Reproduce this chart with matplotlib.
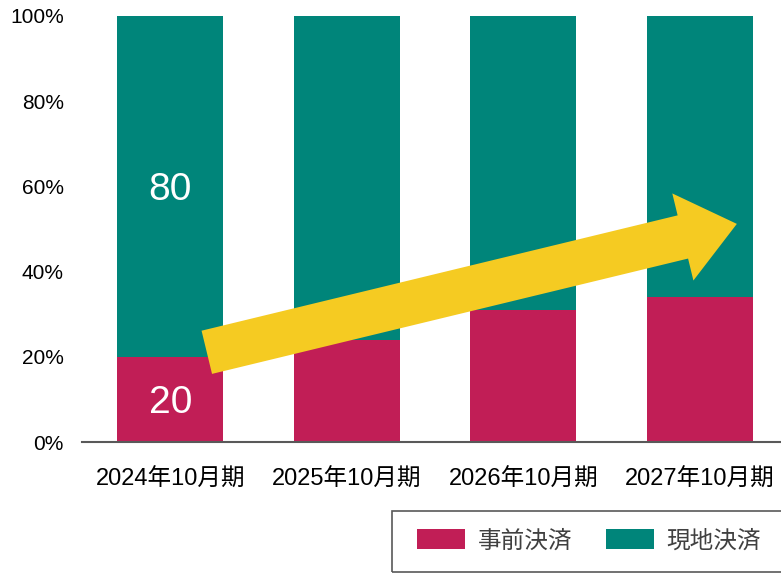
import matplotlib.pyplot as plt
from matplotlib.patches import Rectangle

plt.rcParams['font.family'] = ['Liberation Sans', 'Noto Sans CJK JP']

# Share of payment type per fiscal period (%)
periods = ['2024年10月期', '2025年10月期', '2026年10月期', '2027年10月期']
prepaid = [20, 24, 31, 34]          # 事前決済
onsite = [100 - v for v in prepaid]  # 現地決済
series_names = ['事前決済', '現地決済']

red = '#C11E56'
teal = '#00857A'
yellow = '#F5CB22'

fig = plt.figure(figsize=(7.81, 5.73), dpi=100)
ax = fig.add_axes([0.105, 0.2286, 0.904, 0.7435])

x = range(len(periods))
b1 = ax.bar(x, prepaid, width=0.6, color=red, label=series_names[0])
b2 = ax.bar(x, onsite, width=0.6, bottom=prepaid, color=teal, label=series_names[1])

# value labels on the first period only (digits centred in each segment)
for val, mid in [(prepaid[0], prepaid[0] / 2), (onsite[0], prepaid[0] + onsite[0] / 2)]:
    ax.annotate(str(val), (0, mid), xytext=(0, -10), textcoords='offset points',
                color='white', fontsize=28, ha='center', va='baseline')

# trend arrow
ax.annotate('', xy=(3.21, 51.2), xytext=(0.207, 21.06),
            arrowprops=dict(arrowstyle='simple,head_length=4.0,head_width=6.45,tail_width=3.2',
                            fc=yellow, ec='none', shrinkA=0, shrinkB=0,
                            mutation_scale=10))

ax.set_xlim(-0.5, 3.5)
ax.set_ylim(0, 100)
ax.set_yticks([0, 20, 40, 60, 80, 100])
ax.set_yticklabels([f'{v}%' for v in [0, 20, 40, 60, 80, 100]])
ax.set_xticks(list(x))
ax.set_xticklabels(periods)
ax.tick_params(axis='y', length=0, pad=13, labelsize=15, labelcolor='#000000')
ax.tick_params(axis='x', length=0, pad=19, labelsize=17, labelcolor='#000000')

for side in ['top', 'right', 'left']:
    ax.spines[side].set_visible(False)
ax.spines['bottom'].set_color('#595959')
ax.spines['bottom'].set_linewidth(1.5)

# legend with its own frame
leg = fig.legend(handles=[b1, b2], labels=series_names, loc='center left',
                 bbox_to_anchor=(416.7 / 781, 32.15 / 573), bbox_transform=fig.transFigure,
                 ncol=2, frameon=False, fontsize=17, borderpad=0, borderaxespad=0,
                 handlelength=2.03, handleheight=0.93, handletextpad=0.54,
                 columnspacing=1.44, labelcolor='#404040')
fig.patches.append(Rectangle((391.7 / 781, 1.3 / 573), 0.6, 60.7 / 573,
                             transform=fig.transFigure, fill=False,
                             ec='#595959', lw=1.2))

plt.savefig('out.png', dpi=100)
